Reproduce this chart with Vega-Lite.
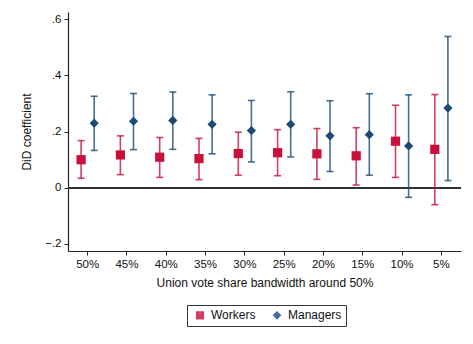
{
  "$schema": "https://vega.github.io/schema/vega-lite/v6.json",
  "width": 393,
  "height": 239,
  "autosize": "none",
  "padding": {"left": 68, "top": 12, "right": 12, "bottom": 93},
  "background": "white",
  "config": {
    "view": {"stroke": null},
    "font": "Liberation Sans",
    "axis": {"grid": false, "domainColor": "#222", "tickColor": "#222", "labelColor": "#111", "titleColor": "#111", "labelFont": "Liberation Sans", "titleFont": "Liberation Sans", "titleFontWeight": "normal"},
    "legend": {"labelFont": "Liberation Sans", "labelColor": "#111"}
  },
  "data": {
    "values": [
      {"bw": "50%", "group": "Workers", "coef": 0.100, "lo": 0.034, "hi": 0.168},
      {"bw": "50%", "group": "Managers", "coef": 0.230, "lo": 0.133, "hi": 0.326},
      {"bw": "45%", "group": "Workers", "coef": 0.117, "lo": 0.047, "hi": 0.185},
      {"bw": "45%", "group": "Managers", "coef": 0.237, "lo": 0.136, "hi": 0.336},
      {"bw": "40%", "group": "Workers", "coef": 0.109, "lo": 0.037, "hi": 0.179},
      {"bw": "40%", "group": "Managers", "coef": 0.240, "lo": 0.137, "hi": 0.341},
      {"bw": "35%", "group": "Workers", "coef": 0.104, "lo": 0.029, "hi": 0.176},
      {"bw": "35%", "group": "Managers", "coef": 0.226, "lo": 0.121, "hi": 0.331},
      {"bw": "30%", "group": "Workers", "coef": 0.122, "lo": 0.045, "hi": 0.198},
      {"bw": "30%", "group": "Managers", "coef": 0.204, "lo": 0.092, "hi": 0.311},
      {"bw": "25%", "group": "Workers", "coef": 0.125, "lo": 0.043, "hi": 0.207},
      {"bw": "25%", "group": "Managers", "coef": 0.226, "lo": 0.110, "hi": 0.342},
      {"bw": "20%", "group": "Workers", "coef": 0.121, "lo": 0.030, "hi": 0.211},
      {"bw": "20%", "group": "Managers", "coef": 0.185, "lo": 0.058, "hi": 0.310},
      {"bw": "15%", "group": "Workers", "coef": 0.114, "lo": 0.010, "hi": 0.214},
      {"bw": "15%", "group": "Managers", "coef": 0.189, "lo": 0.045, "hi": 0.335},
      {"bw": "10%", "group": "Workers", "coef": 0.166, "lo": 0.037, "hi": 0.294},
      {"bw": "10%", "group": "Managers", "coef": 0.149, "lo": -0.034, "hi": 0.331},
      {"bw": "5%", "group": "Workers", "coef": 0.137, "lo": -0.060, "hi": 0.332},
      {"bw": "5%", "group": "Managers", "coef": 0.284, "lo": 0.026, "hi": 0.539}
    ]
  },
  "encoding": {
    "x": {
      "field": "bw", "type": "nominal",
      "sort": ["50%", "45%", "40%", "35%", "30%", "25%", "20%", "15%", "10%", "5%"],
      "scale": {"paddingInner": 0, "paddingOuter": 0},
      "axis": {"labelAngle": 0, "labelFontSize": 11.5, "titleFontSize": 12, "tickSize": 4, "labelPadding": 3, "titlePadding": 8, "domainWidth": 1.2, "title": "Union vote share bandwidth around 50%"}
    },
    "xOffset": {
      "field": "group", "type": "nominal",
      "sort": ["Workers", "Managers"],
      "scale": {"type": "point", "padding": 1}
    },
    "color": {"field": "group", "type": "nominal", "sort": ["Workers", "Managers"],
      "scale": {"domain": ["Workers", "Managers"], "range": ["#C8103A", "#1C4A73"]},
      "legend": {"title": null, "orient": "none", "legendX": 119, "legendY": 293, "direction": "horizontal", "strokeColor": "#333", "fillColor": "white", "padding": 4, "labelFontSize": 12, "symbolSize": 45, "columnPadding": 12, "labelOffset": 5, "symbolOffset": 3}}
  },
  "layer": [
    {
      "mark": {"type": "rule", "color": "#333333", "strokeWidth": 1.2},
      "encoding": {"x": null, "xOffset": null, "color": null, "y": {"datum": 0, "type": "quantitative"}}
    },
    {
      "mark": {"type": "rule", "strokeWidth": 1.6, "opacity": 0.8},
      "encoding": {
        "y": {"field": "lo", "type": "quantitative"},
        "y2": {"field": "hi"}
      }
    },
    {
      "mark": {"type": "tick", "orient": "horizontal", "size": 7, "thickness": 1.6, "opacity": 0.8},
      "encoding": {
        "y": {"field": "lo", "type": "quantitative"}
      }
    },
    {
      "mark": {"type": "tick", "orient": "horizontal", "size": 7, "thickness": 1.6, "opacity": 0.8},
      "encoding": {
        "y": {"field": "hi", "type": "quantitative"}
      }
    },
    {
      "mark": {"type": "point", "filled": true, "opacity": 1, "size": 85},
      "encoding": {
        "y": {
          "field": "coef", "type": "quantitative",
          "scale": {"domain": [-0.225, 0.626], "nice": false, "zero": false},
          "axis": {"values": [-0.2, 0, 0.2, 0.4, 0.6], "labelExpr": "datum.value == 0 ? '0' : replace(format(datum.value, '.1f'), '0.', '.')", "labelFontSize": 11.5, "tickSize": 4, "labelPadding": 3, "title": "DiD coefficient", "titleFontSize": 12, "titlePadding": 11, "domainWidth": 1.2}
        },
        "shape": {"field": "group", "type": "nominal", "sort": ["Workers", "Managers"], "scale": {"domain": ["Workers", "Managers"], "range": ["square", "diamond"]},
          "legend": {"title": null, "orient": "none", "legendX": 119, "legendY": 293, "direction": "horizontal", "strokeColor": "#333", "fillColor": "white", "padding": 4, "labelFontSize": 12, "symbolSize": 45, "columnPadding": 12, "labelOffset": 5, "symbolOffset": 3}}
      }
    }
  ]
}
